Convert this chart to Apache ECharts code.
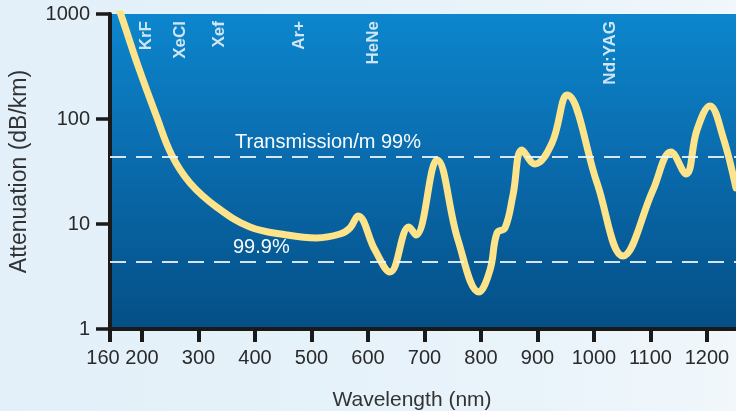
<!DOCTYPE html>
<html><head><meta charset="utf-8">
<script src="https://cdn.jsdelivr.net/npm/echarts@6/dist/echarts.min.js"></script>
<style>html,body{margin:0;padding:0;background:#e6f2fa}#c{width:736px;height:411px}</style>
</head><body><div id="c"></div>
<script>
// Attenuation curve (wavelength nm, dB/km)
const wavelength = [155.8, 162.3, 193.5, 226.0, 252.6, 285.0, 332.2, 391.2, 456.1, 509.2, 550.5, 568.2, 582.3, 612.4, 639.0, 672.6, 685.0, 722.2, 759.3, 796.5, 816.0, 828.4, 842.5, 856.7, 872.6, 895.6, 925.7, 952.3, 1005.4, 1051.4, 1104.5, 1136.3, 1162.9, 1182.3, 1205.3, 1228.4, 1251.4];
const attenuation = [1218, 1000, 315, 105, 45.4, 24.6, 14.5, 9.36, 7.86, 7.36, 8.03, 9.16, 11.9, 5.65, 3.49, 9.36, 7.86, 40.7, 7.04, 2.25, 3.65, 8.21, 9.16, 18.9, 50.7, 37.3, 59.1, 169, 24.6, 4.96, 21.1, 48.5, 29.9, 78.6, 133, 67.4, 22.0];
// x axis ticks (first tick is the broken-axis start, labelled 160)
const xTickValues = [143.4, 200, 300, 400, 500, 600, 700, 800, 900, 1000, 1100, 1200];
const xTickLabels = ['160', '200', '300', '400', '500', '600', '700', '800', '900', '1000', '1100', '1200'];
// laser lines
const laserNames = ['KrF', 'XeCl', 'Xef', 'Ar+', 'HeNe', 'Nd:YAG'];
const laserPositions = [206.8, 268.1, 336.0, 478.0, 609.6, 1028.4];
// transmission reference levels (dB/km)
const transmissionLevels = [43.6, 4.35];
const transmissionLabels = ['Transmission/m 99%', '99.9%'];

const FONT = 'Liberation Sans, Arial, sans-serif';
const LABEL_Y = 857; // anchor height for laser labels

const chart = echarts.init(document.getElementById('c'), null, {renderer: 'canvas'});
chart.setOption({
  animation: false,
  backgroundColor: new echarts.graphic.LinearGradient(0, 0, 1, 0, [
    {offset: 0, color: '#e3f0f9'}, {offset: 0.7, color: '#e8f3fa'}, {offset: 1, color: '#f1f7fb'}
  ]),
  grid: {
    left: 110, right: 0, top: 14, bottom: 82, show: true, borderWidth: 0,
    containLabel: false, outerBoundsMode: 'none',
    backgroundColor: new echarts.graphic.LinearGradient(0, 0, 0, 1, [
      {offset: 0, color: '#0c86cd'}, {offset: 0.45, color: '#0a6cae'}, {offset: 1, color: '#044f86'}
    ])
  },
  xAxis: {
    type: 'value', min: 143.4, max: 1251.4,
    name: 'Wavelength (nm)', nameLocation: 'middle', nameGap: 61,
    nameTextStyle: {fontSize: 21, color: '#333', fontFamily: FONT, padding: [0, 22, 0, 0]},
    axisLine: {show: true, onZero: false, lineStyle: {color: '#1a1a1a', width: 4}},
    axisTick: {show: true, customValues: xTickValues, length: 13, lineStyle: {color: '#1a1a1a', width: 4}},
    axisLabel: {
      customValues: xTickValues, fontSize: 20, color: '#2a2a2a', fontFamily: FONT, margin: 19,
      formatter: function (v) {
        const i = xTickValues.indexOf(v);
        const t = i >= 0 ? xTickLabels[i] : '';
        return i === 0 ? '{a|' + t + '}' : t;
      },
      rich: {a: {fontSize: 20, color: '#2a2a2a', fontFamily: FONT, padding: [0, 14, 0, 0]}}
    },
    splitLine: {show: false}
  },
  yAxis: {
    type: 'log', logBase: 10, min: 1, max: 1000,
    name: 'Attenuation (dB/km)', nameLocation: 'middle', nameGap: 71,
    nameTextStyle: {fontSize: 23, color: '#333', fontFamily: FONT, padding: [0, 0, 8, 0]},
    axisLine: {show: true, lineStyle: {color: '#1a1a1a', width: 4}},
    axisTick: {show: true, length: 14, lineStyle: {color: '#1a1a1a', width: 3.5}},
    minorTick: {show: false},
    axisLabel: {fontSize: 20, color: '#2a2a2a', fontFamily: FONT, margin: 20, formatter: v => String(v)},
    splitLine: {show: false}
  },
  series: [
    {
      type: 'line', data: wavelength.map((x, i) => [x, attenuation[i]]),
      smooth: 0.4, symbol: 'none', clip: true, z: 3,
      lineStyle: {color: '#fde38a', width: 7, cap: 'round', join: 'round'},
      markLine: {
        silent: true, symbol: 'none', animation: false,
        lineStyle: {color: 'rgba(236,245,252,0.9)', type: [16, 10], width: 2},
        label: {position: 'insideStartTop', color: '#f7fbfe', fontSize: 20, fontFamily: FONT, distance: 4},
        data: transmissionLevels.map((v, i) => ({
          yAxis: v,
          label: {formatter: transmissionLabels[i], padding: [0, 0, 0, i === 0 ? 121 : 119]}
        }))
      }
    },
    {
      type: 'scatter', symbolSize: 0, z: 4, silent: true,
      data: laserPositions.map((x, i) => ({value: [x, LABEL_Y], name: laserNames[i]})),
      label: {
        show: true, formatter: '{b}', position: 'inside', rotate: 90,
        align: 'right', verticalAlign: 'middle',
        color: '#ffffff', fontSize: 17, fontWeight: 'bold', fontFamily: FONT
      }
    }
  ]
});
</script>
</body></html>
